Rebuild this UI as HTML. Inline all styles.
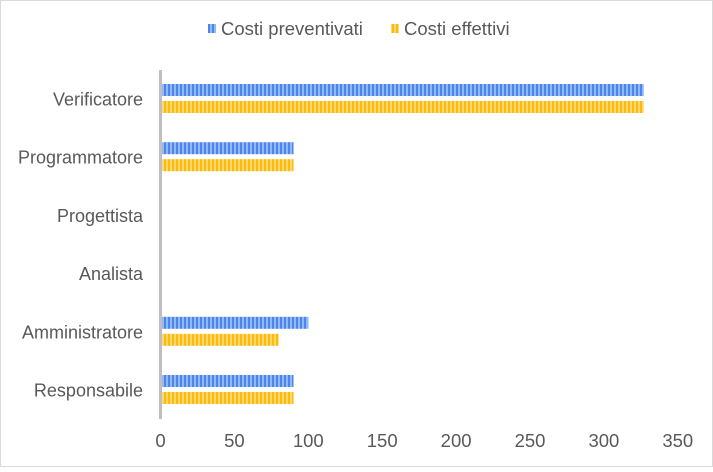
<!DOCTYPE html>
<html><head><meta charset="utf-8"><style>
body{margin:0;background:#fff}
svg text{font-family:"Liberation Sans",sans-serif;fill:#595959}
</style></head><body>
<svg id="c" width="713" height="467" xmlns="http://www.w3.org/2000/svg">
<defs>
<pattern id="pb" width="4" height="10" patternUnits="userSpaceOnUse"><rect width="4" height="10" fill="#94b8f6"/><rect width="2" height="10" fill="#4a86ec"/></pattern>
<pattern id="py" width="4" height="10" patternUnits="userSpaceOnUse"><rect width="4" height="10" fill="#ffd874"/><rect width="2" height="10" fill="#fbbb06"/></pattern>
</defs>
<rect x="0.5" y="0.5" width="712" height="466" fill="#fff" stroke="#d9d9d9"/>
<g>
<rect x="208" y="24" width="8" height="9" fill="url(#pb)"/>
<text x="221" y="35" font-size="18.5">Costi preventivati</text>
<rect x="391" y="24" width="8" height="9" fill="url(#py)"/>
<text x="404" y="35" font-size="18.5">Costi effettivi</text>
</g>
<g id="bars"></g>
<rect x="159" y="70" width="3" height="349" fill="#bfbfbf"/>
<g id="labels"></g>
</svg>
<script>
const categories=["Verificatore","Programmatore","Progettista","Analista","Amministratore","Responsabile"];
const preventivati=[327,90,0,0,100,90];
const effettivi=[327,90,0,0,80,90];
const ticks=[0,50,100,150,200,250,300,350];
const x0=160.5,k=1.478;
const xs=v=>x0+v*k;
const yc=i=>99+i*58.2;
const ns="http://www.w3.org/2000/svg";
const bars=document.getElementById('bars'),labels=document.getElementById('labels');
categories.forEach((c,i)=>{
  const t=document.createElementNS(ns,'text');
  t.setAttribute('x',143);t.setAttribute('y',yc(i)+6.5);t.setAttribute('text-anchor','end');t.setAttribute('font-size','18');
  t.textContent=c;
  
  
  labels.appendChild(t);
  [[preventivati,'url(#pb)',-15],[effettivi,'url(#py)',2]].forEach(([arr,f,off])=>{
    if(arr[i]<=0)return;
    const r=document.createElementNS(ns,'rect');
    r.setAttribute('x',xs(0));r.setAttribute('y',yc(i)+off);r.setAttribute('width',xs(arr[i])-xs(0));r.setAttribute('height',12);r.setAttribute('fill',f);
    
    
    bars.appendChild(r);
  });
});
ticks.forEach(v=>{
  const t=document.createElementNS(ns,'text');
  t.setAttribute('x',xs(v));t.setAttribute('y',447);t.setAttribute('text-anchor','middle');t.setAttribute('font-size','18.5');
  t.textContent=v;
  
  
  labels.appendChild(t);
});
</script>
</body></html>
